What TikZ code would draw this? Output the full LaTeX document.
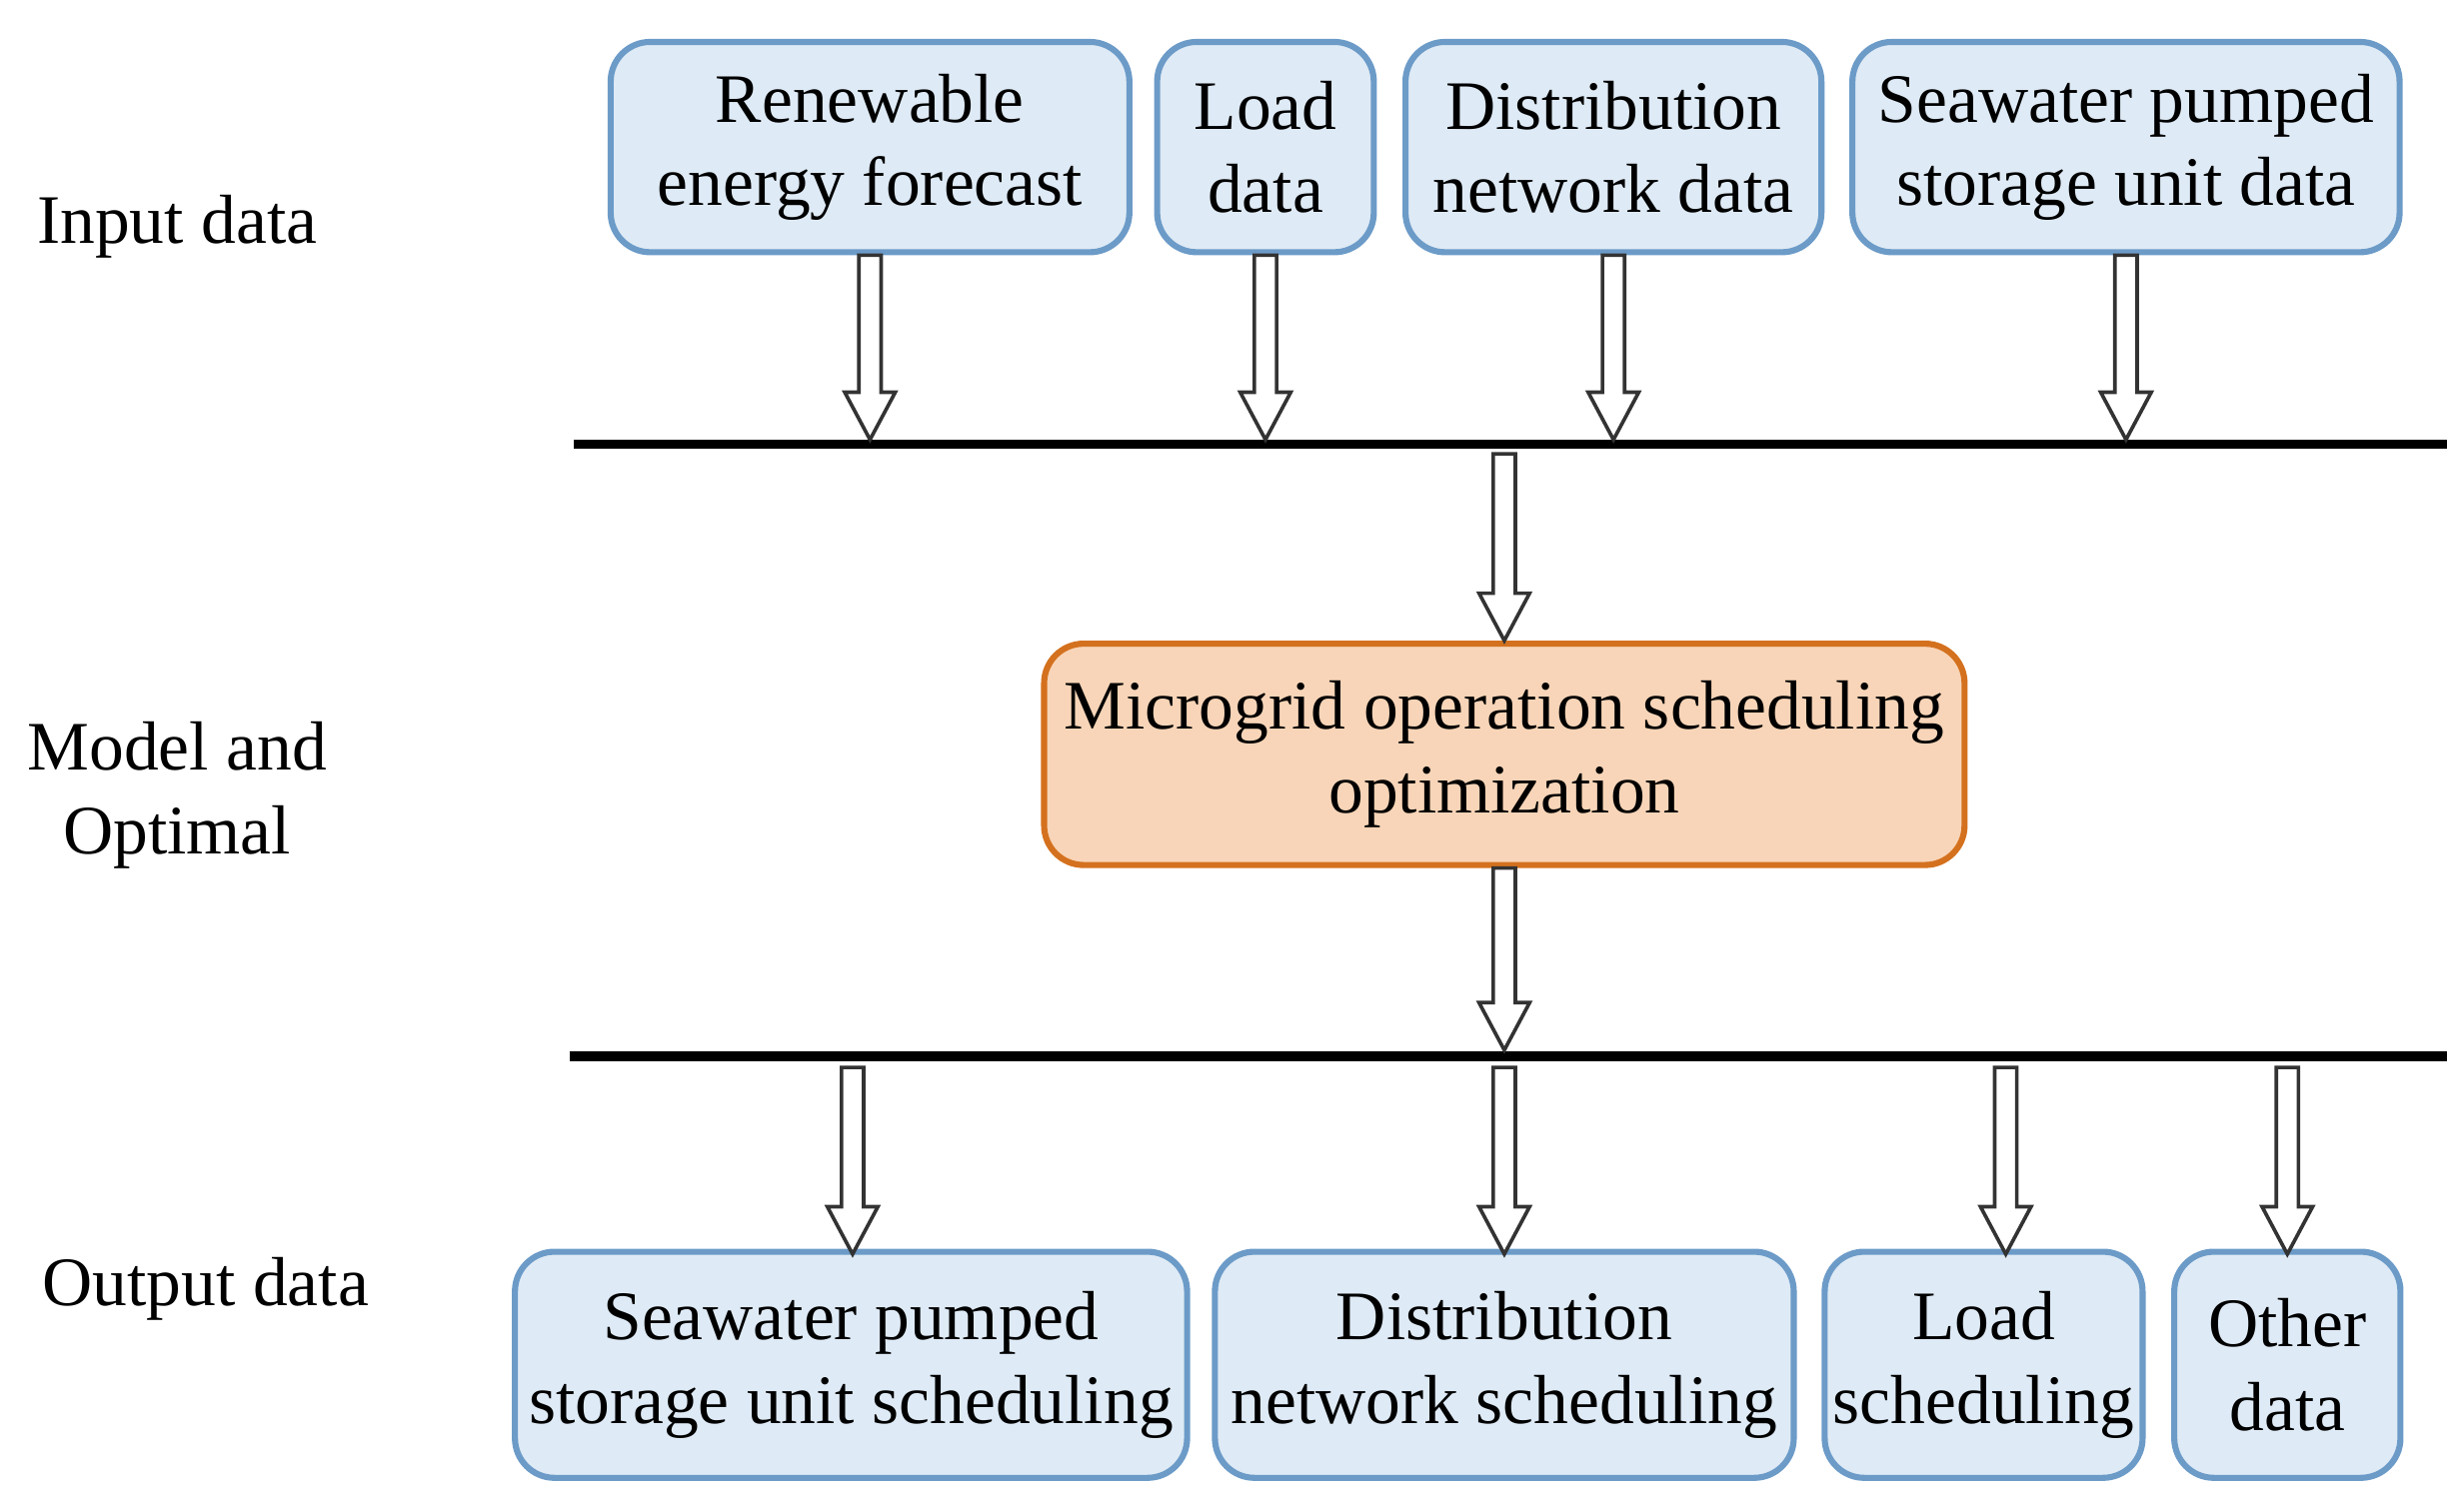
\documentclass[tikz,border=0pt]{standalone}
\usepackage{fontspec}
\setmainfont{Liberation Serif}
\usetikzlibrary{calc}
\definecolor{boxblue}{HTML}{DEEAF5}
\definecolor{lineblue}{HTML}{6C9BC8}
\definecolor{boxorange}{HTML}{F8D5B8}
\definecolor{lineorange}{HTML}{D4711E}
\tikzset{
	databox/.style={draw=lineblue, fill=boxblue, line width=2.2pt, rounded corners=0.5cm, align=center, inner sep=0pt},
	optbox/.style={draw=lineorange, fill=boxorange, line width=2.2pt, rounded corners=0.5cm, align=center, inner sep=0pt},
	bus/.style={line width=3.4pt},
	fatarrow/.style={draw=black!80, fill=white, line width=1.3pt},
	sidelabel/.style={align=center}
}
\newcommand{\fatarrow}[2]{%
	\draw[fatarrow] let \p1=(#1), \p2=(#2) in
		(\x1-0.14cm,\y1) -- (\x1-0.14cm,\y2+0.6cm) -- (\x1-0.32cm,\y2+0.6cm) -- (\x1,\y2)
		-- (\x1+0.32cm,\y2+0.6cm) -- (\x1+0.14cm,\y2+0.6cm) -- (\x1+0.14cm,\y1) -- cycle;}
\begin{document}
\fontsize{25}{30}\selectfont
\begin{tikzpicture}[x=0.02cm, y=-0.02cm]
	\useasboundingbox (0,0) rectangle (1552,956);
	
	% input boxes
	\node[databox, minimum width=6.56cm, minimum height=2.66cm] (ren) at (550,93) {Renewable\\energy forecast};
	\node[databox, minimum width=2.74cm, minimum height=2.66cm] (load) at (800,93) {Load\\data};
	\node[databox, minimum width=5.26cm, minimum height=2.66cm] (dist) at (1020,93) {Distribution\\network data};
	\node[databox, minimum width=6.92cm, minimum height=2.66cm] (sea) at (1344,93) {Seawater pumped\\storage unit data};
	
	% buses
	\coordinate (bus1w) at (363,281);
	\coordinate (bus1e) at (1547,281);
	\draw[bus] (bus1w) -- (bus1e);
	\coordinate (bus2w) at (360,668);
	\coordinate (bus2e) at (1547,668);
	\draw[bus] (bus2w) -- (bus2e);
	
	% optimization
	\node[optbox, minimum width=11.64cm, minimum height=2.8cm] (opt) at (951,477) {Microgrid operation scheduling\\optimization};
	
	% output boxes
	\node[databox, minimum width=8.5cm, minimum height=2.86cm] (osea) at (538,863) {Seawater pumped\\storage unit scheduling};
	\node[databox, minimum width=7.32cm, minimum height=2.86cm] (odist) at (951,863) {Distribution\\network scheduling};
	\node[databox, minimum width=4.02cm, minimum height=2.86cm] (oload) at (1254,863) {Load\\scheduling};
	\node[databox, minimum width=2.86cm, minimum height=2.86cm] (oother) at (1446,863) {Other\\data};
	
	% side labels
	\node[sidelabel] (lin) at (112,143) {Input data};
	\node[sidelabel] (lmod) at (112,503) {Model and\\Optimal};
	\node[sidelabel] (lout) at (130,815) {Output data};
	
	% arrows
	\coordinate (a1) at (550,278); \coordinate (a2) at (800,278);
	\coordinate (a3) at (1020,278); \coordinate (a4) at (1344,278);
	\fatarrow{ren.south}{a1}
	\fatarrow{load.south}{a2}
	\fatarrow{dist.south}{a3}
	\fatarrow{sea.south}{a4}
	\coordinate (m1) at (951,287); \coordinate (m2) at (951,664);
	\fatarrow{m1}{opt.north}
	\fatarrow{opt.south}{m2}
	\coordinate (b1) at (539,675); \coordinate (b2) at (951,675);
	\coordinate (b3) at (1268,675); \coordinate (b4) at (1446,675);
	\coordinate (e1) at (539,793); \coordinate (e2) at (951,793);
	\coordinate (e3) at (1268,793); \coordinate (e4) at (1446,793);
	\fatarrow{b1}{e1}
	\fatarrow{b2}{e2}
	\fatarrow{b3}{e3}
	\fatarrow{b4}{e4}
\end{tikzpicture}
\end{document}
